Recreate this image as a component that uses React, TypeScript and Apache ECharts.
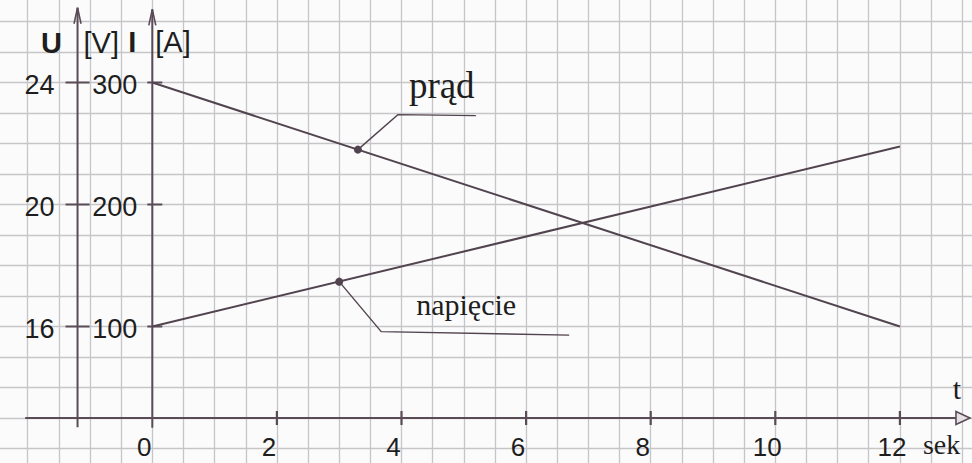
import React, { useEffect, useRef } from "react";
import * as echarts from "echarts";

// ---- data ----
const timeTicks = [0, 2, 4, 6, 8, 10, 12]; // t [sek]
const currentTicks = [100, 200, 300]; // I [A]
const voltageTicks = [16, 20, 24]; // U [V]

const times = [0, 12];
const currentValues = [300, 100]; // prąd, I [A]
const voltageValues = [16, 21.9]; // napięcie, U [V]

const currentMarker = [3.3, 245]; // point on "prąd" line carrying the label
const voltageMarker = [3.0, 17.47]; // point on "napięcie" line carrying the label

const currentLabel = "prąd";
const voltageLabel = "napięcie";

// ---- drawing geometry of the hand-drawn axes (in axis units) ----
const tAxisLevel = 25; // the t axis crosses the I axis at I = 25
const tAxisFrom = -2.04;
const tAxisTo = 12.9;
const iAxisAt = 0;
const iAxisFrom = 17;
const iAxisTo = 360;
const uAxisAt = -1.2;
const uAxisFrom = 12.7;
const uAxisTo = 26.45;

const AXIS_INK = "#5a4c57";
const LINE_INK = "#52444f";
const GRID = "#c6c6c8";
const TEXT = "#1e1e1e";
const PAPER = "#fbfbfc";
const SANS = "'Liberation Sans', Arial, sans-serif";
const SERIF = "'Liberation Serif', 'Times New Roman', serif";

// the chart canvas is larger than the visible window so that the paper grid runs off every edge
const PAD = 24;

function txt(text: string, x: number, y: number, size: number, align: string, family = SANS, weight: any = "normal") {
  return {
    type: "text",
    style: {
      text,
      x,
      y,
      fill: TEXT,
      fontSize: size,
      fontFamily: family,
      fontWeight: weight,
      align,
      textAlign: align,
      verticalAlign: "middle",
      textVerticalAlign: "middle",
    },
  };
}
function seg(x1: number, y1: number, x2: number, y2: number, w = 2, color = AXIS_INK) {
  return { type: "line", shape: { x1, y1, x2, y2 }, style: { stroke: color, lineWidth: w } };
}

export default function App() {
  const ref = useRef<HTMLDivElement>(null);
  useEffect(() => {
    if (!ref.current) return;
    const chart = echarts.init(ref.current, null, { renderer: "svg" });

    const renderIAxes = (params: any, api: any) => {
      const c = (t: number, v: number) => api.coord([t, v]);
      const children: any[] = [];
      const [xs, ya] = c(tAxisFrom, tAxisLevel);
      const [xe] = c(tAxisTo, tAxisLevel);
      children.push(seg(xs, ya, xe, ya));
      children.push({
        type: "polygon",
        shape: { points: [[xe, ya - 6.5], [xe + 14, ya], [xe, ya + 6.5]] },
        style: { stroke: AXIS_INK, fill: "#e6dfe4", lineWidth: 1.6 },
      });
      timeTicks.forEach((t) => {
        const [tx] = c(t, tAxisLevel);
        if (t !== 0) children.push(seg(tx, ya - 7, tx, ya + 7, 2.2));
        children.push(txt(String(t), tx - 8, ya + 29, 26, "center"));
      });
      children.push(txt("t", xe + 1, ya - 30, 30, "center", SERIF));
      children.push(txt("sek", xe - 33, ya + 26, 28, "left", SERIF));

      const [ix, iTop] = c(iAxisAt, iAxisTo);
      const [, iBot] = c(iAxisAt, iAxisFrom);
      children.push(seg(ix, iTop, ix, iBot));
      children.push({
        type: "polyline",
        shape: { points: [[ix - 3.5, iTop + 16], [ix, iTop], [ix + 3.5, iTop + 16]] },
        style: { stroke: AXIS_INK, fill: "none", lineWidth: 1.6 },
      });
      currentTicks.forEach((v) => {
        const [, ty] = c(iAxisAt, v);
        children.push(seg(ix - 5, ty, ix + 10, ty, 2));
        children.push(txt(String(v), ix - 15, ty + 2, 27, "right"));
      });
      children.push(txt("I", ix - 20, iTop + 33, 29, "center", SANS, "bold"));
      children.push(txt("[A]", ix + 3, iTop + 33, 29, "left"));
      return { type: "group", children };
    };

    const renderUAxis = (params: any, api: any) => {
      const c = (t: number, v: number) => api.coord([t, v]);
      const children: any[] = [];
      const [ux, uTop] = c(uAxisAt, uAxisTo);
      const [, uBot] = c(uAxisAt, uAxisFrom);
      children.push(seg(ux, uTop, ux, uBot));
      children.push({
        type: "polyline",
        shape: { points: [[ux - 3.5, uTop + 16], [ux, uTop], [ux + 3.5, uTop + 16]] },
        style: { stroke: AXIS_INK, fill: "none", lineWidth: 1.6 },
      });
      voltageTicks.forEach((v) => {
        const [, ty] = c(uAxisAt, v);
        children.push(seg(ux - 12, ty, ux + 12, ty, 2));
        children.push(txt(String(v), ux - 23, ty + 2, 27, "right"));
      });
      children.push(txt("U", ux - 26, uTop + 35, 29, "center", SANS, "bold"));
      children.push(txt("[V]", ux + 6, uTop + 35, 29, "left"));
      return { type: "group", children };
    };

    const renderCurrentNote = (params: any, api: any) => {
      const [px, py] = api.coord(currentMarker);
      return {
        type: "group",
        children: [
          {
            type: "polyline",
            shape: { points: [[px, py], [px + 40, py - 35], [px + 118, py - 34]] },
            style: { stroke: LINE_INK, fill: "none", lineWidth: 1.4 },
          },
          { type: "circle", shape: { cx: px, cy: py, r: 4 }, style: { fill: LINE_INK } },
          txt(currentLabel, px + 51, py - 64, 37, "left", SERIF),
        ],
      };
    };

    const renderVoltageNote = (params: any, api: any) => {
      const [px, py] = api.coord(voltageMarker);
      return {
        type: "group",
        children: [
          {
            type: "polyline",
            shape: { points: [[px, py], [px + 42, py + 50], [px + 230, py + 53.5]] },
            style: { stroke: LINE_INK, fill: "none", lineWidth: 1.4 },
          },
          { type: "circle", shape: { cx: px, cy: py, r: 4 }, style: { fill: LINE_INK } },
          txt(voltageLabel, px + 77, py + 23, 30, "left", SERIF),
        ],
      };
    };

    const hidden = { axisLine: { show: false }, axisTick: { show: false }, axisLabel: { show: false } };

    chart.setOption({
      animation: false,
      backgroundColor: PAPER,
      grid: { left: PAD - 3.45, top: PAD - 9, width: 996.8, height: 488, containLabel: false },
      xAxis: {
        type: "value",
        min: -2.5,
        max: 13.5,
        interval: 0.5,
        ...hidden,
        splitLine: { show: true, lineStyle: { color: GRID, width: 1.3 } },
      },
      yAxis: [
        {
          type: "value",
          min: -25,
          max: 375,
          interval: 25,
          ...hidden,
          splitLine: { show: true, lineStyle: { color: GRID, width: 1.3 } },
        },
        {
          type: "value",
          min: 11,
          max: 27,
          interval: 1,
          ...hidden,
          splitLine: { show: false },
        },
      ],
      series: [
        { type: "custom", yAxisIndex: 0, data: [[0, 0]], renderItem: renderIAxes, clip: false, silent: true, z: 3 },
        { type: "custom", yAxisIndex: 1, data: [[0, 0]], renderItem: renderUAxis, clip: false, silent: true, z: 3 },
        {
          name: currentLabel,
          type: "line",
          yAxisIndex: 0,
          data: times.map((t, i) => [t, currentValues[i]]),
          symbol: "none",
          lineStyle: { color: LINE_INK, width: 2 },
          z: 4,
        },
        {
          name: voltageLabel,
          type: "line",
          yAxisIndex: 1,
          data: times.map((t, i) => [t, voltageValues[i]]),
          symbol: "none",
          lineStyle: { color: LINE_INK, width: 2 },
          z: 4,
        },
        { type: "custom", yAxisIndex: 0, data: [[0, 0]], renderItem: renderCurrentNote, clip: false, silent: true, z: 5 },
        { type: "custom", yAxisIndex: 1, data: [[0, 0]], renderItem: renderVoltageNote, clip: false, silent: true, z: 5 },
      ],
    });
    return () => chart.dispose();
  }, []);

  return (
    <div style={{ position: "absolute", left: 0, top: 0, width: 972, height: 463, overflow: "hidden", background: PAPER }}>
      <div
        ref={ref}
        style={{ position: "absolute", left: -PAD, top: -PAD, width: 972 + 2 * PAD + 30, height: 463 + 2 * PAD + 20 }}
      />
    </div>
  );
}
